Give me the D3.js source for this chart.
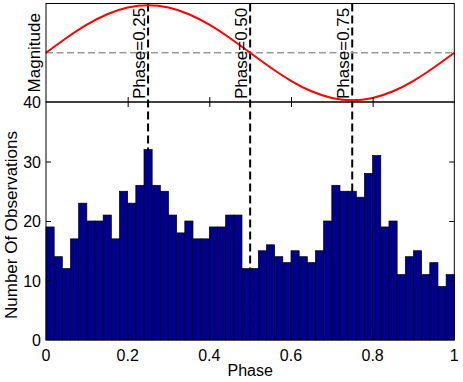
<!DOCTYPE html>
<html>
<head>
<meta charset="utf-8">
<script src="https://cdn.jsdelivr.net/npm/d3@7"></script>
<style>
  body { margin: 0; background: #fff; }
  text { font-family: "Liberation Sans", Arial, sans-serif; }
</style>
</head>
<body>
<div id="chart"></div>
<script>
// histogram counts, 50 bins of width 0.02 over phase 0..1
var counts = [19,14,12,17,23,20,20,21,17,25,23,26,32,26,25,21,18,20,17,17,
              19,19,21,21,12,12,15,16,14,13,15,14,13,15,20,26,25,25,24,28,
              31,19,20,11,14,15,11,13,9,11];
var binWidth = 0.02;

// magnitude curve (relative units)
var curvePhase = [0,0.05,0.1,0.15,0.2,0.25,0.3,0.35,0.4,0.45,0.5,
                  0.55,0.6,0.65,0.7,0.75,0.8,0.85,0.9,0.95,1];
var curveMag = [0,0.31,0.59,0.81,0.95,1,0.95,0.81,0.59,0.31,0,
                -0.31,-0.59,-0.81,-0.95,-1,-0.95,-0.81,-0.59,-0.31,0];

var markers = [0.25, 0.5, 0.75];
var markerLabels = ["Phase=0.25", "Phase=0.50", "Phase=0.75"];
var xTicks = [0, 0.2, 0.4, 0.6, 0.8, 1];
var yTicks = [0, 10, 20, 30, 40];

var width = 463, height = 382;
var left = 46, right = 454.3;
var topY = 3.5, midY = 102, bottomY = 340;

var svg = d3.select("#chart").append("svg")
    .attr("width", width)
    .attr("height", height);

var x = d3.scaleLinear().domain([0, 1]).range([left, right]);
var y = d3.scaleLinear().domain([0, 40]).range([bottomY, midY]);
var yMag = d3.scaleLinear().domain([-1.035, 1.035]).range([midY, topY]);

// dashed phase markers (behind the bars)
svg.selectAll("line.marker")
    .data(markers)
    .enter().append("line")
    .attr("class", "marker")
    .attr("x1", function(d) { return x(d); })
    .attr("x2", function(d) { return x(d); })
    .attr("y1", topY)
    .attr("y2", bottomY)
    .attr("stroke", "#000")
    .attr("stroke-width", 2)
    .attr("stroke-dasharray", "8,4");

// bars
svg.selectAll("rect.bar")
    .data(counts)
    .enter().append("rect")
    .attr("class", "bar")
    .attr("x", function(d, i) { return x(i * binWidth); })
    .attr("width", function(d, i) { return x((i + 1) * binWidth) - x(i * binWidth); })
    .attr("y", function(d) { return y(d); })
    .attr("height", function(d) { return y(0) - y(d); })
    .attr("fill", "#00008f")
    .attr("stroke", "#000")
    .attr("stroke-width", 0.7);

// grey mean line in the top panel
svg.append("line")
    .attr("x1", left).attr("x2", right)
    .attr("y1", yMag(0)).attr("y2", yMag(0))
    .attr("stroke", "#999")
    .attr("stroke-width", 1.5)
    .attr("stroke-dasharray", "7,3.5");

// red magnitude curve
var line = d3.line()
    .x(function(d, i) { return x(curvePhase[i]); })
    .y(function(d) { return yMag(d); })
    .curve(d3.curveNatural);

svg.append("path")
    .datum(curveMag)
    .attr("d", line)
    .attr("fill", "none")
    .attr("stroke", "#ff0000")
    .attr("stroke-width", 2);

// marker labels
svg.selectAll("text.mlabel")
    .data(markers)
    .enter().append("text")
    .attr("class", "mlabel")
    .attr("transform", function(d) { return "translate(" + (x(d) - 3) + "," + 99 + ") rotate(-90)"; })
    .style("font-size", "17px")
    .text(function(d, i) { return markerLabels[i]; });

// frames
svg.append("rect")
    .attr("x", left).attr("y", topY)
    .attr("width", right - left).attr("height", midY - topY)
    .attr("fill", "none").attr("stroke", "#000").attr("stroke-width", 1);
svg.append("rect")
    .attr("x", left).attr("y", midY)
    .attr("width", right - left).attr("height", bottomY - midY)
    .attr("fill", "none").attr("stroke", "#000").attr("stroke-width", 1);

// inward ticks
function ticks(axis, tx, ty) {
    var g = svg.append("g")
        .attr("transform", "translate(" + tx + "," + ty + ")")
        .call(axis);
    g.select(".domain").remove();
    g.selectAll("text").remove();
    return g;
}
var inner = xTicks.slice(1, -1);
ticks(d3.axisBottom(x).tickValues(inner).tickSizeInner(-5).tickSizeOuter(0), 0, midY);
ticks(d3.axisTop(x).tickValues(inner).tickSizeInner(-5).tickSizeOuter(0), 0, midY);
ticks(d3.axisBottom(x).tickValues(inner).tickSizeInner(-5).tickSizeOuter(0), 0, bottomY);
ticks(d3.axisLeft(y).tickValues(yTicks.slice(1, -1)).tickSizeInner(-5).tickSizeOuter(0), left, 0);
ticks(d3.axisRight(y).tickValues(yTicks.slice(1, -1)).tickSizeInner(-5).tickSizeOuter(0), right, 0);

// tick labels
svg.selectAll("text.xt")
    .data(xTicks)
    .enter().append("text")
    .attr("class", "xt")
    .attr("x", function(d) { return x(d); })
    .attr("y", 361)
    .attr("text-anchor", "middle")
    .style("font-size", "16px")
    .text(function(d) { return d; });

svg.selectAll("text.yt")
    .data(yTicks)
    .enter().append("text")
    .attr("class", "yt")
    .attr("x", 41)
    .attr("y", function(d) { return y(d); })
    .attr("dy", "0.38em")
    .attr("text-anchor", "end")
    .style("font-size", "16px")
    .text(function(d) { return d; });

// axis titles
svg.append("text")
    .attr("x", (left + right) / 2)
    .attr("y", 376)
    .attr("text-anchor", "middle")
    .style("font-size", "16px")
    .text("Phase");

svg.append("text")
    .attr("transform", "translate(17," + ((midY + bottomY) / 2 + 4) + ") rotate(-90)")
    .attr("text-anchor", "middle")
    .style("font-size", "17px")
    .text("Number Of Observations");

svg.append("text")
    .attr("transform", "translate(40," + ((topY + midY) / 2) + ") rotate(-90)")
    .attr("text-anchor", "middle")
    .style("font-size", "17px")
    .text("Magnitude");
</script>
</body>
</html>
